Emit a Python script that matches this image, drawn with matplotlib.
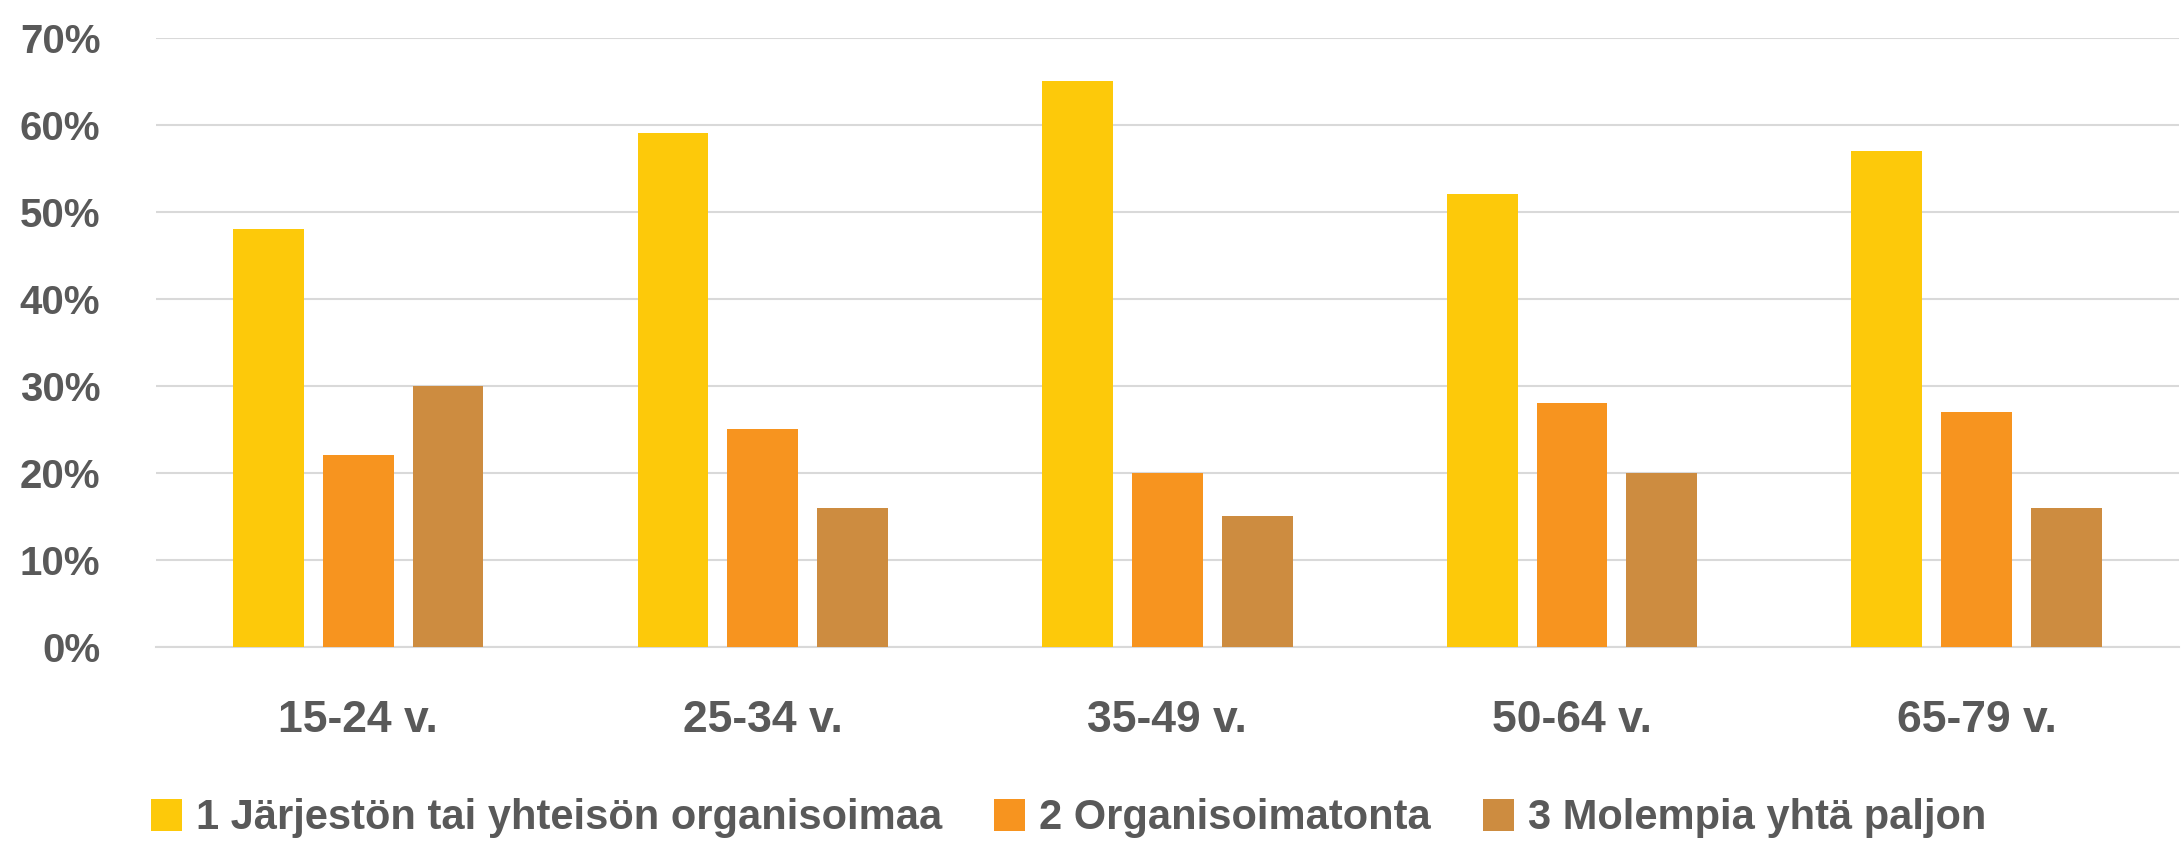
import numpy as np
import matplotlib
matplotlib.use("Agg")
import matplotlib.pyplot as plt

CATEGORIES = ["15-24 v.", "25-34 v.", "35-49 v.", "50-64 v.", "65-79 v."]
SERIES = [
    "1 Järjestön tai yhteisön organisoimaa",
    "2 Organisoimatonta",
    "3 Molempia yhtä paljon",
]
ORGANISED = [48, 59, 65, 52, 57]
UNORGANISED = [22, 25, 20, 28, 27]
BOTH = [30, 16, 15, 20, 16]
COLORS = ["#FDC90A", "#F7941F", "#CD8C40"]

TEXT = "#595959"
GRID = "#D9D9D9"

plt.rcParams.update({
    "font.family": ["Liberation Sans", "DejaVu Sans"],
    "font.weight": "bold",
})

fig = plt.figure(figsize=(21.81, 8.55), dpi=100)
ax = fig.add_axes([0.0715, 0.2433, 0.9275, 0.7128])

x = np.arange(len(CATEGORIES))
width = 0.175
step = 0.222
for i, (name, vals) in enumerate(zip(SERIES, [ORGANISED, UNORGANISED, BOTH])):
    ax.bar(x + (i - 1) * step, vals, width=width, color=COLORS[i],
           label=name, zorder=3)

ax.set_xlim(-0.5, len(CATEGORIES) - 0.5)
ax.set_ylim(0, 70)
ax.set_yticks(np.arange(0, 71, 10))
ax.set_yticklabels([f"{v}%" for v in range(0, 71, 10)])
ax.set_xticks(x)
ax.set_xticklabels(CATEGORIES)

ax.yaxis.grid(True, color=GRID, linewidth=1.5, zorder=0)
ax.set_axisbelow(True)
for side in ["top", "right", "left"]:
    ax.spines[side].set_visible(False)
ax.spines["bottom"].set_color(GRID)
ax.spines["bottom"].set_linewidth(1.5)

ax.tick_params(axis="both", length=0, colors=TEXT)
ax.tick_params(axis="y", labelsize=29, pad=40)
ax.tick_params(axis="x", labelsize=32, pad=38)

leg = fig.legend(
    loc="center", bbox_to_anchor=(0.49, 0.043), ncol=3, frameon=False,
    fontsize=30, handlelength=0.74, handleheight=0.8,
    handletextpad=0.34, columnspacing=1.25, labelcolor=TEXT,
)

fig.savefig("out.png", dpi=100, facecolor="white")
